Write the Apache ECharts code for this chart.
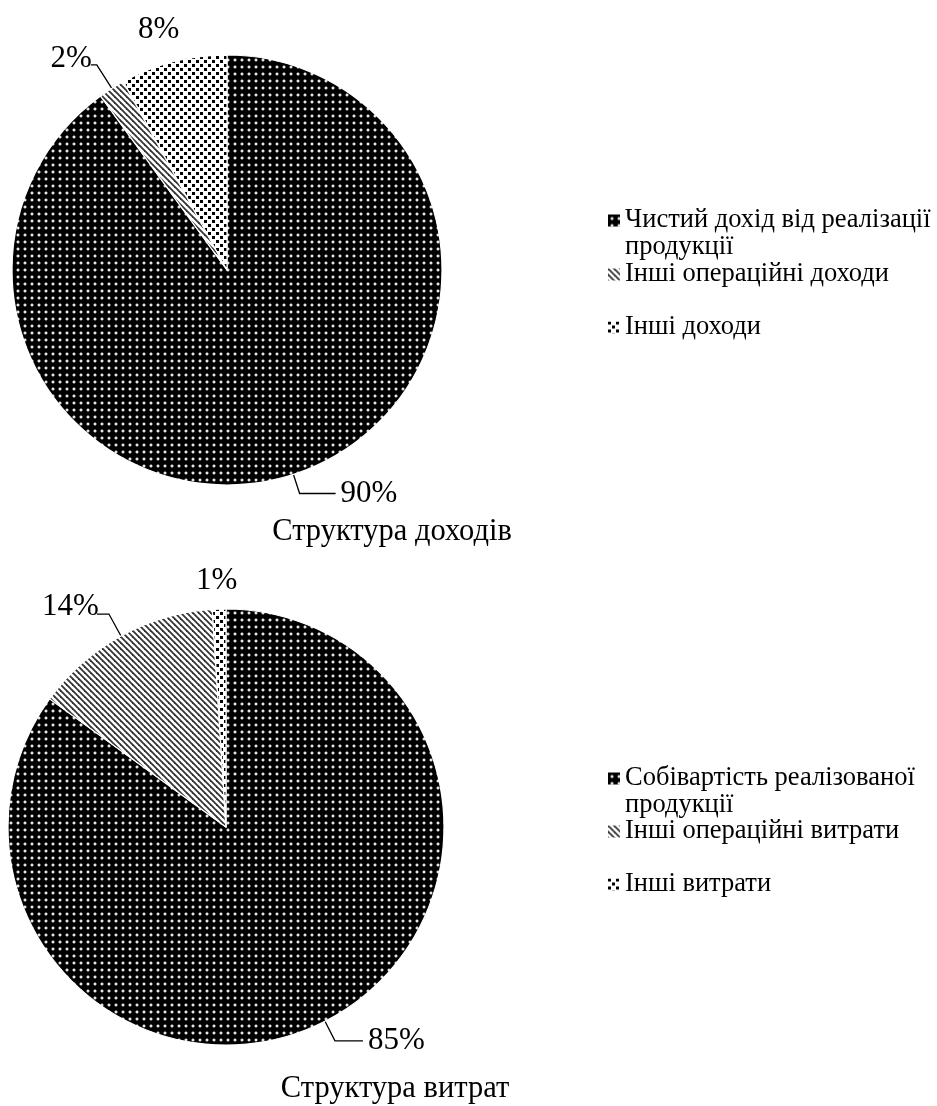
<!DOCTYPE html>
<html>
<head>
<meta charset="utf-8">
<script src="https://cdn.jsdelivr.net/npm/echarts@6/dist/echarts.min.js"></script>
<style>
  html, body { margin: 0; padding: 0; background: #fff; }
  #chart { width: 937px; height: 1106px; }
</style>
</head>
<body>
<div id="chart"></div>
<script>
// дані
var incomeNames = ['Чистий дохід від реалізації продукції', 'Інші операційні доходи', 'Інші доходи'];
var incomeValues = [90, 2, 8];
var costNames = ['Собівартість реалізованої продукції', 'Інші операційні витрати', 'Інші витрати'];
var costValues = [85, 14, 1];

var FONT = '"Liberation Serif", "Times New Roman", serif';

// візерунки заливки (як у Excel)
function tile(size, draw) {
  var c = document.createElement('canvas');
  c.width = size; c.height = size;
  var ctx = c.getContext('2d');
  draw(ctx, size);
  return { image: c, repeat: 'repeat' };
}
var dotsDark = tile(7, function (ctx, s) {
  ctx.fillStyle = '#000'; ctx.fillRect(0, 0, s, s);
  ctx.fillStyle = '#555'; ctx.fillRect(2, 3, 4, 2); ctx.fillRect(3, 2, 2, 4);
  ctx.fillStyle = '#e6e6e6'; ctx.fillRect(3, 3, 2, 2);
});
var squares = tile(8, function (ctx, s) {
  ctx.fillStyle = '#fff'; ctx.fillRect(0, 0, s, s);
  ctx.fillStyle = '#000';
  ctx.fillRect(0, 0, 3, 3);
  ctx.fillRect(4, 4, 3, 3);
});
var stripes = tile(6, function (ctx, s) {
  ctx.fillStyle = '#fff'; ctx.fillRect(0, 0, s, s);
  ctx.strokeStyle = '#333'; ctx.lineWidth = 1.8;
  for (var k = -1; k <= 1; k++) {
    ctx.beginPath();
    ctx.moveTo(k * s - 1, -1);
    ctx.lineTo(k * s + s + 1, s + 1);
    ctx.stroke();
  }
});
var fills = [dotsDark, stripes, squares];

// довжини ліній підписів для кожного сектора: [length, length2, show]
var incomeLines = [[20, 36, true], [28, 6, true], [33, 0, false]];
var costLines = [[22, 28, true], [25, 12, true], [28, 0, false]];
// зсув підписів
var labelNudge = [[null, [6, -6], [19, 0]], [null, [7, -7], [24, 0]]];

function pieData(names, values, lines) {
  return values.map(function (v, i) {
    return {
      name: names[i],
      value: v,
      itemStyle: { color: fills[i] },
      labelLine: { show: lines[i][2], length: lines[i][0], length2: lines[i][1] }
    };
  });
}

function pieSeries(names, values, lines, center, radius) {
  return {
    type: 'pie',
    center: center,
    radius: radius,
    startAngle: 90,
    clockwise: true,
    percentPrecision: 0,
    avoidLabelOverlap: false,
    silent: true,
    itemStyle: { borderColor: '#fff', borderWidth: 1.2 },
    label: {
      show: true,
      position: 'outside',
      formatter: '{d}%',
      color: '#000',
      fontFamily: FONT,
      fontSize: 31
    },
    labelLine: { lineStyle: { color: '#000', width: 1.3 } },
    labelLayout: function (p) {
      var n = labelNudge[p.seriesIndex][p.dataIndex];
      return n ? { dx: n[0], dy: n[1] } : {};
    },
    data: pieData(names, values, lines)
  };
}

// верх легенди для кожного пункту (перший пункт має два рядки)
var legendTops = [[175, 256, 309], [733, 813, 866]];
var legendNames = [incomeNames, costNames];
var legends = [];
legendNames.forEach(function (names, p) {
  names.forEach(function (n, i) {
    legends.push({
      left: 603,
      top: legendTops[p][i],
      orient: 'vertical',
      icon: 'rect',
      itemWidth: 12,
      itemHeight: 12,
      itemStyle: { borderWidth: 0 },
      selectedMode: false,
      data: [n],
      // порожній перший рядок, щоб значок стояв навпроти першого рядка тексту
      formatter: function (name) {
        return name.indexOf(' продукції') > 0 ? '\n' + name.replace(' продукції', '\nпродукції') : name;
      },
      textStyle: { fontFamily: FONT, fontSize: 26.5, lineHeight: 27, color: '#000' }
    });
  });
});

var chart = echarts.init(document.getElementById('chart'));
chart.setOption({
  backgroundColor: '#fff',
  animation: false,
  title: [
    { text: 'Структура доходів', left: 387, top: 511, textAlign: 'center',
      textStyle: { fontFamily: FONT, fontSize: 30.5, fontWeight: 'normal', color: '#000' } },
    { text: 'Структура витрат', left: 390, top: 1068, textAlign: 'center',
      textStyle: { fontFamily: FONT, fontSize: 30.5, fontWeight: 'normal', color: '#000' } }
  ],
  legend: legends,
  series: [
    pieSeries(incomeNames, incomeValues, incomeLines, [227, 270], 215),
    pieSeries(costNames, costValues, costLines, [226, 827], 218)
  ]
});
</script>
</body>
</html>
